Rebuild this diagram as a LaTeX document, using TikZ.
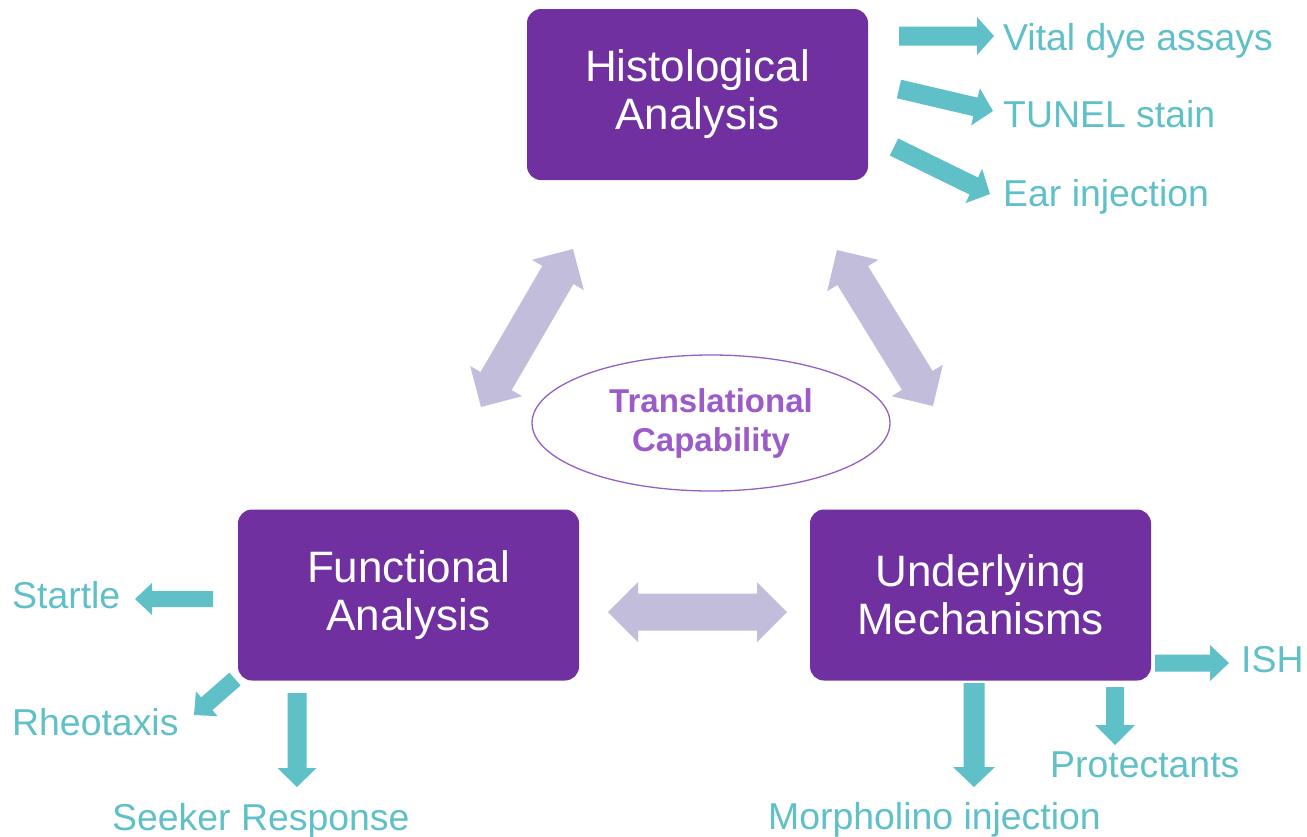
\documentclass[tikz,border=0pt]{standalone}
\usepackage{fontspec}
\setmainfont{Liberation Sans}
\usetikzlibrary{calc,shapes.geometric}

\definecolor{boxpurple}{HTML}{7030A0}
\definecolor{linkviolet}{HTML}{C2BDDB}
\definecolor{assaycol}{HTML}{60C0C8}
\definecolor{ovaltext}{HTML}{9B5BC8}
\definecolor{ovalline}{HTML}{9460C4}

% Single-headed block arrow: #1 style, #2 tail, #3 tip,
% #4 shaft width, #5 head width, #6 head length
\newcommand\blockarrow[6]{%
  \pgfpointdiff{\pgfpointanchor{#2}{center}}{\pgfpointanchor{#3}{center}}%
  \pgfgetlastxy{\bax}{\bay}%
  \pgfmathsetmacro\baang{atan2(\bay,\bax)}%
  \pgfmathsetmacro\balen{veclen(\bax,\bay)}%
  \fill[#1,shift={(#2)},rotate=\baang]
    (0,-#4/2) -- (\balen-#6,-#4/2) -- (\balen-#6,-#5/2) -- (\balen,0)
    -- (\balen-#6,#5/2) -- (\balen-#6,#4/2) -- (0,#4/2) -- cycle;}

% Double-headed block arrow, same arguments
\newcommand\twinarrow[6]{%
  \pgfpointdiff{\pgfpointanchor{#2}{center}}{\pgfpointanchor{#3}{center}}%
  \pgfgetlastxy{\bax}{\bay}%
  \pgfmathsetmacro\baang{atan2(\bay,\bax)}%
  \pgfmathsetmacro\balen{veclen(\bax,\bay)}%
  \fill[#1,shift={(#2)},rotate=\baang]
    (0,0) -- (#6,-#5/2) -- (#6,-#4/2) -- (\balen-#6,-#4/2) -- (\balen-#6,-#5/2)
    -- (\balen,0) -- (\balen-#6,#5/2) -- (\balen-#6,#4/2) -- (#6,#4/2)
    -- (#6,#5/2) -- cycle;}

\begin{document}
\begin{tikzpicture}[x=1pt,y=-1pt,
  mainbox/.style={rectangle, rounded corners=14pt, fill=boxpurple,
    minimum width=341pt, minimum height=171pt, inner sep=0pt,
    text=white, align=center, font=\fontsize{44}{48}\selectfont},
  oval/.style={ellipse, draw=ovalline, line width=1.3pt,
    minimum width=358pt, minimum height=136pt, inner sep=0pt,
    text=ovaltext, align=center, font=\bfseries\fontsize{33}{39}\selectfont},
  assay/.style={anchor=base west, inner sep=0pt, text=assaycol,
    font=\fontsize{37.4}{44}\selectfont},
  outarrow/.style={fill=assaycol},
  linkarrow/.style={fill=linkviolet}]

\clip (0,0) rectangle (1307,836);
\fill[white] (0,0) rectangle (1307,836);

% main blocks
\node[mainbox] (hist)  at (697.5,94.5) {Histological\\Analysis};
\node[mainbox] (func)  at (408.5,595)  {Functional\\Analysis};
\node[mainbox] (under) at (980.5,595)  {Underlying\\Mechanisms};
\node[oval]    (trans) at (711,423)    {Translational\\Capability};

% links between the blocks
\coordinate (lf0) at (481,407); \coordinate (lf1) at (573,249);
\coordinate (lu0) at (837,250); \coordinate (lu1) at (933,406);
\coordinate (lh0) at (608,612); \coordinate (lh1) at (787,612);
\twinarrow{linkarrow}{lf0}{lf1}{36}{60}{30}
\twinarrow{linkarrow}{lu0}{lu1}{36}{60}{30}
\twinarrow{linkarrow}{lh0}{lh1}{37}{60}{30}

% histological assays
\node[assay] (vital) at (1003,50)  {Vital dye assays};
\node[assay] (tunel) at (1003,127) {TUNEL stain};
\node[assay] (ear)   at (1003,206) {Ear injection};
\coordinate (v0) at (899,36);  \coordinate (v1) at (994,36);
\coordinate (t0) at (899,89);  \coordinate (t1) at (993,111);
\coordinate (e0) at (894,147); \coordinate (e1) at (990,194);
\blockarrow{outarrow}{v0}{v1}{19}{38}{17}
\blockarrow{outarrow}{t0}{t1}{19}{38}{18}
\blockarrow{outarrow}{e0}{e1}{19}{38}{18}

% functional assays
\node[assay] (startle) at (12,608)  {Startle};
\node[assay] (rheo)    at (12,735)  {Rheotaxis};
\node[assay] (seeker)  at (112,830) {Seeker Response};
\coordinate (s0) at (213,599); \coordinate (s1) at (135,599);
\coordinate (r0) at (235,679); \coordinate (r1) at (194,715);
\coordinate (k0) at (297,693); \coordinate (k1) at (297,787);
\blockarrow{outarrow}{s0}{s1}{16}{32}{17}
\blockarrow{outarrow}{r0}{r1}{17}{33}{17}
\blockarrow{outarrow}{k0}{k1}{19}{39}{19}

% mechanism assays
\node[assay] (morph) at (768,829)  {Morpholino injection};
\node[assay] (prot)  at (1050,777) {Protectants};
\node[assay] (ish)   at (1241,672) {ISH};
\coordinate (m0) at (974,683);  \coordinate (m1) at (974,787);
\coordinate (p0) at (1115,687); \coordinate (p1) at (1115,745);
\coordinate (i0) at (1155,663); \coordinate (i1) at (1229,663);
\blockarrow{outarrow}{m0}{m1}{21}{42}{20}
\blockarrow{outarrow}{p0}{p1}{18}{40}{20}
\blockarrow{outarrow}{i0}{i1}{17}{36}{19}
\end{tikzpicture}
\end{document}
